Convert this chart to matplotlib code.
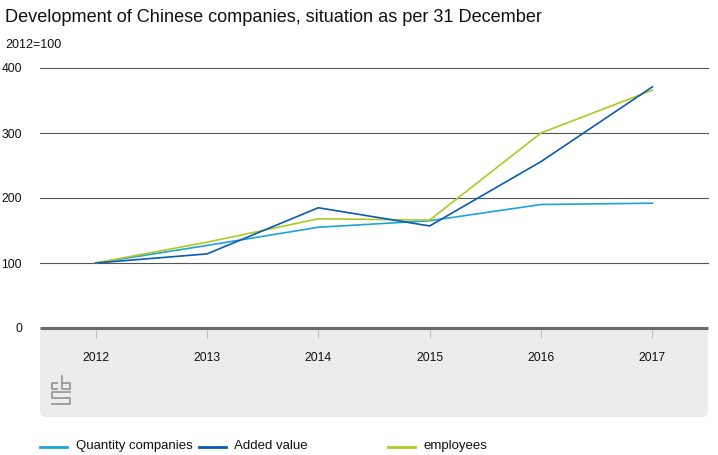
import matplotlib.pyplot as plt
import numpy as np
from matplotlib.patches import FancyBboxPatch
from matplotlib.lines import Line2D
from matplotlib.transforms import IdentityTransform

plt.rcParams['font.family'] = ['Liberation Sans', 'DejaVu Sans']

## Data (index, 2012=100)
years = [2012, 2013, 2014, 2015, 2016, 2017]
quantity_companies = [100, 127, 155, 165, 190, 192]
added_value = [100, 114, 185, 157, 256, 371]
employees = [100, 132, 168, 166, 300, 366]
yticks = [0, 100, 200, 300, 400]

c_quantity = '#1fa3d6'
c_added = '#0a5bb4'
c_employees = '#afc823'

W, H = 718, 455
fig = plt.figure(figsize=(W / 100, H / 100), dpi=100)

def fx(px):
    return px / W

def fy(py):
    return 1 - py / H

## Gray band under the x axis (pixel coords, y from bottom)
band = FancyBboxPatch((40, H - 417), 668, 89, boxstyle='round,pad=0,rounding_size=6',
                      transform=IdentityTransform(), facecolor='#ececec',
                      edgecolor='none', zorder=-5)
fig.patches.append(band)

ax = fig.add_axes([fx(40), fy(328), fx(668), (328 - 68) / H])
ax.set_facecolor('none')

ax.plot(years, quantity_companies, color=c_quantity, lw=1.2, zorder=3)
ax.plot(years, added_value, color=c_added, lw=1.2, zorder=4)
ax.plot(years, employees, color=c_employees, lw=1.2, zorder=3)

ax.set_xlim(2011.5, 2017.5)
ax.set_ylim(0, 400)
ax.set_yticks(yticks)
ax.set_xticks(years)
for v in yticks[1:]:
    ax.axhline(v, color='#555555', lw=0.8, zorder=1, clip_on=False)
ax.axhline(0, color='#6b6b6b', lw=2.2, zorder=2, clip_on=False, solid_capstyle='butt')

for s in ax.spines.values():
    s.set_visible(False)
ax.tick_params(axis='y', length=0, pad=13, labelsize=8.8, labelcolor='#111111')
ax.tick_params(axis='x', direction='out', length=7, width=0.7, color='#bbbbbb',
               pad=10, labelsize=8.8, labelcolor='#111111')

## Titles
fig.text(fx(5), fy(17), 'Development of Chinese companies, situation as per 31 December',
         fontsize=13.1, va='center', ha='left', color='#111111')
fig.text(fx(5), fy(45), '2012=100', fontsize=9, va='center', ha='left', color='#111111')

## CBS logo (rough sketch)
logo_color = '#9a9a9a'
logo_paths = [
    [(57, 383), (52, 383), (52, 389), (57, 389)],
    [(62, 376), (62, 389), (70, 389), (70, 383), (62, 383)],
    [(70, 391.5), (52, 391.5), (52, 397.5), (70, 397.5), (70, 404), (52, 404)],
]
for path in logo_paths:
    xs = [fx(p[0]) for p in path]
    ys = [fy(p[1]) for p in path]
    fig.add_artist(Line2D(xs, ys, color=logo_color, lw=1.3))

## Legend
legend_items = [
    (40, 76, 'Quantity companies', c_quantity),
    (199, 234, 'Added value', c_added),
    (388, 423, 'employees', c_employees),
]
for x0, xt, label, col in legend_items:
    fig.add_artist(Line2D([fx(x0), fx(x0 + 27)], [fy(447), fy(447)], color=col, lw=2))
    fig.text(fx(xt), fy(446), label, fontsize=9.5, va='center', ha='left', color='#111111')

fig.savefig('out.png', dpi=100)
